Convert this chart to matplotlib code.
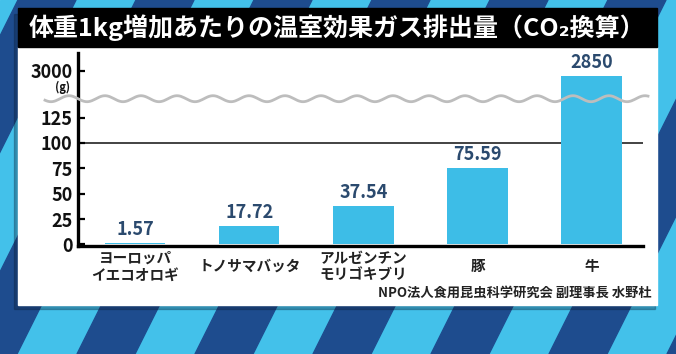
import numpy as np
import matplotlib.pyplot as plt
from matplotlib.patches import Rectangle, Polygon
from matplotlib.transforms import blended_transform_factory

plt.rcParams['font.family'] = ['Noto Sans CJK JP', 'DejaVu Sans']

W, H = 676, 354

categories = ["ヨーロッパ\nイエコオロギ", "トノサマバッタ", "アルゼンチン\nモリゴキブリ", "豚", "牛"]
values = [1.57, 17.72, 37.54, 75.59, 2850]
value_labels = ["1.57", "17.72", "37.54", "75.59", "2850"]
yticks = [0, 25, 50, 75, 100, 125, 3000]
title = "体重1kg増加あたりの温室効果ガス排出量（CO₂換算）"
source = "NPO法人食用昆虫科学研究会 副理事長 水野杜"

LIGHT = "#43c1ea"
DARK = "#1e4c8e"
BAR = "#3dbde7"


# 縦軸の省略（波線）用スケール
def fwd(v):
    v = np.asarray(v, dtype=float)
    return np.where(v <= 145, v,
                    np.where(v <= 2500, 145 + (v - 145) * 8 / 2355,
                             153 + (v - 2500) * 0.036))


def inv(d):
    d = np.asarray(d, dtype=float)
    return np.where(d <= 145, d,
                    np.where(d <= 153, 145 + (d - 145) * 2355 / 8,
                             2500 + (d - 153) / 0.036))


fig = plt.figure(figsize=(W / 100, H / 100), dpi=100)

# 背景のストライプ
bg = fig.add_axes([0, 0, 1, 1])
bg.set_xlim(0, W)
bg.set_ylim(H, 0)
bg.axis("off")
bg.add_patch(Rectangle((0, 0), W, H, color=LIGHT, zorder=0))
period, dark_w, slope = 118, 58, 0.5
for k in range(-4, 8):
    x0 = 77 + k * period
    pts = [(x0, H), (x0 + dark_w, H),
           (x0 + dark_w + slope * H, 0), (x0 + slope * H, 0)]
    bg.add_patch(Polygon(pts, closed=True, color=DARK, zorder=1))

# パネルとタイトルバー
bg.add_patch(Rectangle((14, 14), 641, 295, color="#0a1a30", alpha=0.3, zorder=2))
bg.add_patch(Rectangle((18, 47), 639, 258, color="white", zorder=3))
bg.add_patch(Rectangle((18, 8), 639, 39, color="black", zorder=3))
bg.text(337, 28, title, color="white", fontsize=18, fontweight="bold",
        ha="center", va="center", zorder=4)
bg.text(652, 293, source, color="#222222", fontsize=9.5, fontweight="bold",
        ha="right", va="center", zorder=4)

# グラフ本体
left, right, bottom, top = 78, 643, 246, 53
ax = fig.add_axes([left / W, (H - bottom) / H, (right - left) / W, (bottom - top) / H])
ax.patch.set_alpha(0)
ax.set_yscale("function", functions=(fwd, inv))
ax.set_ylim(-1.5, float(inv(188.5)))
x = np.arange(len(categories))
ax.set_xlim(-0.5, len(categories) - 1 + 0.45)

ax.bar(x, values, width=0.53, color=BAR, zorder=2)
for xi, v, lab in zip(x, values, value_labels):
    ax.annotate(lab, (xi, v), xytext=(0, 3), textcoords="offset points",
                ha="center", va="bottom", fontsize=13, fontweight="bold",
                color="#2b4a6e")

ax.axhline(100, color="#222222", lw=1.2, zorder=1)

for s in ["top", "right"]:
    ax.spines[s].set_visible(False)
for s in ["left", "bottom"]:
    ax.spines[s].set_linewidth(2.4)
    ax.spines[s].set_color("black")

ax.set_yticks(yticks)
ax.set_yticklabels([str(t) for t in yticks], fontsize=13, fontweight="bold", color="#111111")
ax.tick_params(axis="y", direction="in", length=5, width=1.6, pad=4)
ax.set_xticks([])
ax.annotate("(g)", (0, 3000), xycoords=("axes fraction", "data"), xytext=(-6, -12),
            textcoords="offset points", ha="right", va="center", fontsize=8,
            fontweight="bold", color="#111111")

trans = blended_transform_factory(ax.transData, ax.transAxes)
for xi, c in zip(x, categories):
    ax.text(xi, -0.104, c, transform=trans, ha="center", va="center",
            fontsize=10.5, fontweight="bold", color="#222222", linespacing=1.05)

# 波線（省略記号）
wx = np.linspace(45, 648, 400)
wy = 145 / 190 * (bottom - top) + 3 * np.sin(2 * np.pi * (wx - 60) / 36)
ax.plot((wx - left) / (right - left), wy / (bottom - top), transform=ax.transAxes,
        color="#bdbdbd", lw=2, clip_on=False, zorder=5)

fig.savefig("out.png", dpi=100)
